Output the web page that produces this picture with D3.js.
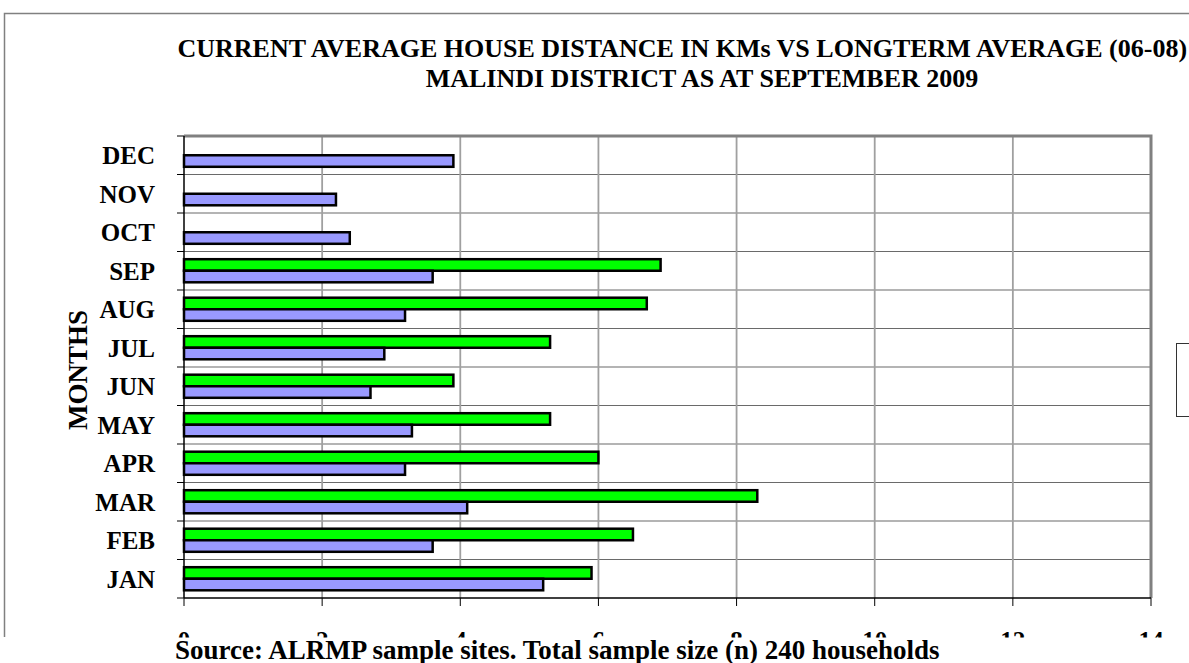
<!DOCTYPE html>
<html>
<head>
<meta charset="utf-8">
<script src="https://cdn.jsdelivr.net/npm/d3@7"></script>
<style>
  body { margin: 0; background: #fff; }
  text { font-family: "Liberation Serif", "Times New Roman", serif; font-weight: bold; }
</style>
</head>
<body>
<script>
// chart data
var months = ["JAN", "FEB", "MAR", "APR", "MAY", "JUN", "JUL", "AUG", "SEP", "OCT", "NOV", "DEC"];
var current2009 = [5.9, 6.5, 8.3, 6.0, 5.3, 3.9, 5.3, 6.7, 6.9, null, null, null];
var longTerm = [5.2, 3.6, 4.1, 3.2, 3.3, 2.7, 2.9, 3.2, 3.6, 2.4, 2.2, 3.9];
var xTicks = [0, 2, 4, 6, 8, 10, 12, 14];

var width = 1189, height = 663;
var plot = {left: 184, right: 1151, top: 136, bottom: 598};

var svg = d3.select("body").append("svg")
    .attr("width", width)
    .attr("height", height);

// outer chart frame (cut off on the right and bottom)
svg.append("path")
    .attr("d", "M4.5,637 L4.5,13.5 L1189,13.5")
    .attr("fill", "none")
    .attr("stroke", "#808080")
    .attr("stroke-width", 1.5);

// title
var title = svg.append("text")
    .attr("text-anchor", "middle")
    .attr("font-size", "26px")
    .attr("fill", "#000");
title.append("tspan").attr("x", 700).attr("y", 57)
    .text("CURRENT AVERAGE HOUSE DISTANCE IN KMs VS LONGTERM AVERAGE (06-08) IN");
title.append("tspan").attr("x", 702).attr("y", 87)
    .text("MALINDI DISTRICT AS AT SEPTEMBER 2009");

var x = d3.scaleLinear().domain([0, 14]).range([plot.left, plot.right]);
var y = d3.scaleBand().domain(months.slice().reverse())
    .range([plot.top, plot.bottom])
    .paddingInner(0.4).paddingOuter(0.2);
var ySeries = d3.scaleBand().domain(["current", "longterm"]).range([0, y.bandwidth()]);

// horizontal gridlines at category boundaries
var step = y.step();
var bounds = d3.range(0, months.length + 1).map(function(i){ return plot.top + i * step; });
svg.append("g").selectAll("line")
    .data(bounds.slice(1, -1))
    .enter().append("line")
    .attr("x1", plot.left).attr("x2", plot.right)
    .attr("y1", function(d){ return d; }).attr("y2", function(d){ return d; })
    .attr("stroke", "#6a6a6a").attr("stroke-width", 1.2);

// vertical gridlines
svg.append("g").selectAll("line")
    .data(xTicks.slice(1, -1))
    .enter().append("line")
    .attr("x1", function(d){ return x(d); }).attr("x2", function(d){ return x(d); })
    .attr("y1", plot.top).attr("y2", plot.bottom)
    .attr("stroke", "#a0a0a0").attr("stroke-width", 1.8);

// plot border top and right
svg.append("path")
    .attr("d", "M" + plot.left + "," + plot.top + " L" + plot.right + "," + plot.top + " L" + plot.right + "," + plot.bottom)
    .attr("fill", "none")
    .attr("stroke", "#808080")
    .attr("stroke-width", 3);

// bars
var rows = months.map(function(m, i){
    return {month: m, current: current2009[i], longterm: longTerm[i]};
});
var groups = svg.append("g").selectAll("g")
    .data(rows)
    .enter().append("g")
    .attr("transform", function(d){ return "translate(0," + y(d.month) + ")"; });

groups.filter(function(d){ return d.current !== null; })
    .append("rect")
    .attr("x", x(0))
    .attr("y", ySeries("current"))
    .attr("width", function(d){ return x(d.current) - x(0); })
    .attr("height", ySeries.bandwidth())
    .attr("fill", "#00ff00")
    .attr("stroke", "#000")
    .attr("stroke-width", 2.5);

groups.append("rect")
    .attr("x", x(0))
    .attr("y", ySeries("longterm"))
    .attr("width", function(d){ return x(d.longterm) - x(0); })
    .attr("height", ySeries.bandwidth())
    .attr("fill", "#9999ff")
    .attr("stroke", "#000")
    .attr("stroke-width", 2.5);

// left axis line and tick marks
svg.append("line")
    .attr("x1", plot.left).attr("x2", plot.left)
    .attr("y1", plot.top).attr("y2", plot.bottom)
    .attr("stroke", "#000").attr("stroke-width", 1.5);
svg.append("g").selectAll("line")
    .data(bounds)
    .enter().append("line")
    .attr("x1", plot.left - 7).attr("x2", plot.left)
    .attr("y1", function(d){ return d; }).attr("y2", function(d){ return d; })
    .attr("stroke", "#000").attr("stroke-width", 1);

// month labels
svg.append("g").selectAll("text")
    .data(months)
    .enter().append("text")
    .attr("x", 155)
    .attr("y", function(d){ return y(d) + y.bandwidth() / 2 + 9; })
    .attr("text-anchor", "end")
    .attr("font-size", "25px")
    .text(function(d){ return d; });

// bottom axis line and ticks
svg.append("line")
    .attr("x1", plot.left).attr("x2", plot.right)
    .attr("y1", plot.bottom).attr("y2", plot.bottom)
    .attr("stroke", "#000").attr("stroke-width", 1.5);
svg.append("g").selectAll("line")
    .data(xTicks)
    .enter().append("line")
    .attr("x1", function(d){ return x(d); }).attr("x2", function(d){ return x(d); })
    .attr("y1", plot.bottom).attr("y2", plot.bottom + 8)
    .attr("stroke", "#000").attr("stroke-width", 1);

// tick labels, clipped so only their tops show
svg.append("clipPath").attr("id", "tickclip")
    .append("rect").attr("x", 0).attr("y", 0).attr("width", width).attr("height", 637.5);
svg.append("g").attr("clip-path", "url(#tickclip)")
    .selectAll("text")
    .data(xTicks)
    .enter().append("text")
    .attr("x", function(d){ return x(d); })
    .attr("y", 649)
    .attr("text-anchor", "middle")
    .attr("font-size", "25px")
    .text(function(d){ return d; });

// y axis title
svg.append("text")
    .attr("transform", "translate(87,370) rotate(-90)")
    .attr("text-anchor", "middle")
    .attr("font-size", "27px")
    .text("MONTHS");

// legend box, mostly outside the view
svg.append("rect")
    .attr("x", 1176.5).attr("y", 343.5)
    .attr("width", 60).attr("height", 73)
    .attr("fill", "#fff")
    .attr("stroke", "#333").attr("stroke-width", 1);

// source note
svg.append("text")
    .attr("x", 175)
    .attr("y", 659)
    .attr("font-size", "27px")
    .text("Source: ALRMP sample sites. Total sample size (n) 240 households");
</script>
</body>
</html>
